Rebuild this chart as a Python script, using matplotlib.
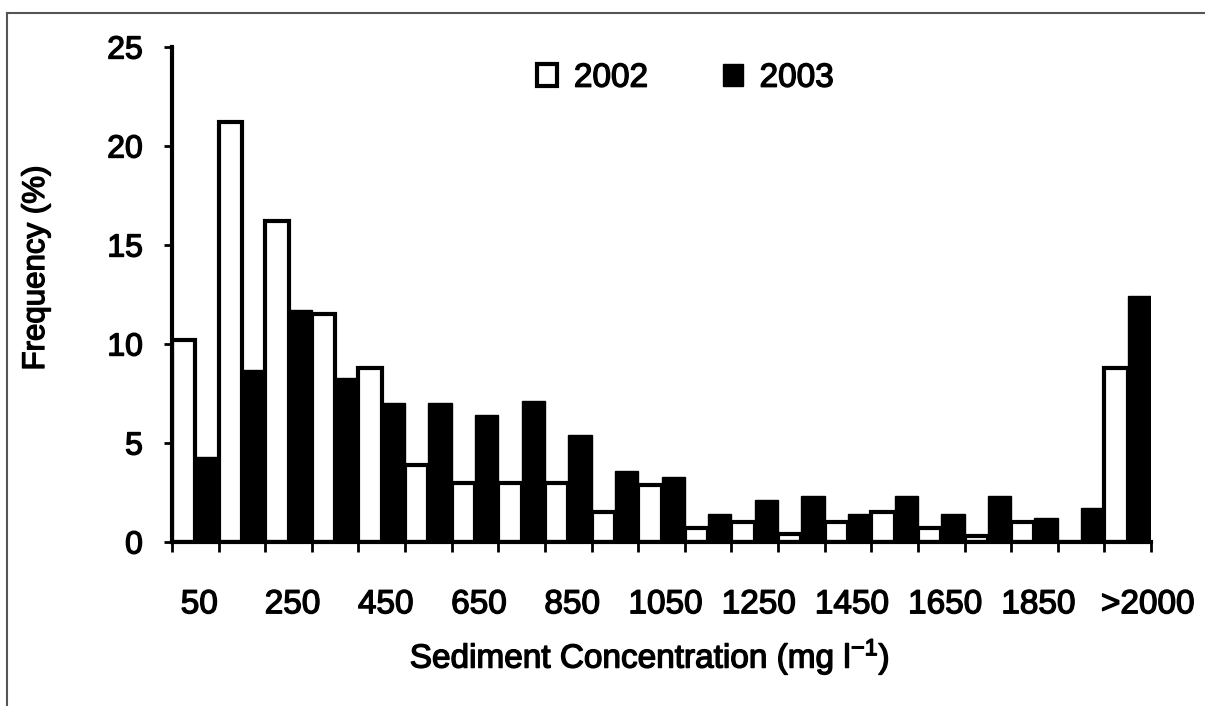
import numpy as np
import matplotlib
matplotlib.use("Agg")
import matplotlib.pyplot as plt
import matplotlib.transforms as mtransforms
import matplotlib.patheffects as pe
from matplotlib.lines import Line2D

plt.rcParams["font.family"] = ["Liberation Sans", "DejaVu Sans"]
plt.rcParams["mathtext.default"] = "regular"

# Classes de concentração (mg/l) — 21 classes, rótulo a cada duas
CLASSES = ["50", "150", "250", "350", "450", "550", "650", "750", "850", "950",
           "1050", "1150", "1250", "1350", "1450", "1550", "1650", "1750",
           "1850", "1950", ">2000"]
FREQ_2002 = [10.2, 21.2, 16.2, 11.5, 8.8, 3.9, 3.0, 3.0, 3.0, 1.5,
             2.9, 0.7, 1.0, 0.4, 1.0, 1.5, 0.7, 0.3, 1.0, 0.0, 8.8]
FREQ_2003 = [4.3, 8.7, 11.7, 8.3, 7.0, 7.0, 6.4, 7.1, 5.4, 3.6,
             3.3, 1.4, 2.1, 2.3, 1.4, 2.3, 1.4, 2.3, 1.2, 1.7, 12.4]
Y_TICKS = [0, 5, 10, 15, 20, 25]

# texto escaneado é um pouco mais grosso que o Arial normal
THICK = [pe.withStroke(linewidth=1.0, foreground="black")]

W, H = 1205, 706
fig = plt.figure(figsize=(W / 100, H / 100), dpi=100)
ax = fig.add_axes([172 / W, 1 - 542 / H, (1151 - 172) / W, (542 - 47) / H])

x = np.arange(len(CLASSES))
ax.bar(x + 0.25, FREQ_2002, width=0.5, color="white", edgecolor="black",
       linewidth=3, label="2002", zorder=2)
ax.bar(x + 0.75, FREQ_2003, width=0.5, color="black", edgecolor="black",
       linewidth=1, label="2003", zorder=2)

ax.set_xlim(0, len(CLASSES))
ax.set_ylim(0, 25)
ax.set_yticks(Y_TICKS)
ax.set_yticklabels([str(v) for v in Y_TICKS], fontsize=23)

# ticks nas bordas das classes, rótulos no centro (a cada duas classes)
ax.set_xticks(np.arange(len(CLASSES) + 1))
ax.set_xticklabels([])
lab_idx = list(range(0, len(CLASSES), 2))
ax.set_xticks(x[lab_idx] + 0.5, minor=True)
ax.set_xticklabels([CLASSES[i] for i in lab_idx], minor=True, fontsize=24)
ax.tick_params(axis="x", which="major", direction="out", length=7, width=2)
ax.tick_params(axis="x", which="minor", length=0, pad=34)
ax.tick_params(axis="y", direction="out", length=6, width=2, pad=15)

# ">2000" fica um pouco deslocado à direita no original
lbls = ax.get_xticklabels(minor=True)
lbls[-1].set_transform(lbls[-1].get_transform()
                       + mtransforms.ScaledTranslation(0.2, 0, fig.dpi_scale_trans))
for lb in lbls[:-1]:
    lb.set_transform(lb.get_transform()
                     + mtransforms.ScaledTranslation(0.04, 0, fig.dpi_scale_trans))
for lb in lbls + ax.get_yticklabels():
    lb.set_path_effects(THICK)

for s in ["top", "right"]:
    ax.spines[s].set_visible(False)
for s in ["left", "bottom"]:
    ax.spines[s].set_linewidth(3)

leg = ax.legend(loc="center", bbox_to_anchor=(0.5245, 0.937), ncol=2, frameon=False,
                fontsize=24, handlelength=0.6, handleheight=0.6, handletextpad=0.5,
                columnspacing=2.25)
for t in leg.get_texts():
    t.set_path_effects(THICK)

fig.text(650 / W, 1 - 657 / H, "Sediment Concentration (mg l$^{-1}$)",
         ha="center", va="center", fontsize=24, path_effects=THICK)
fig.text(36 / W, 1 - 268 / H, "Frequency (%)", rotation=90,
         ha="center", va="center", fontsize=22.5, path_effects=THICK)

# moldura do gráfico (parcial, como no original)
fig.add_artist(Line2D([7 / W, 1], [1 - 13 / H, 1 - 13 / H], color="#555555", lw=1.5))
fig.add_artist(Line2D([7 / W, 7 / W], [1 - 13 / H, 0], color="#555555", lw=1.5))

fig.savefig("out.png", dpi=100)
